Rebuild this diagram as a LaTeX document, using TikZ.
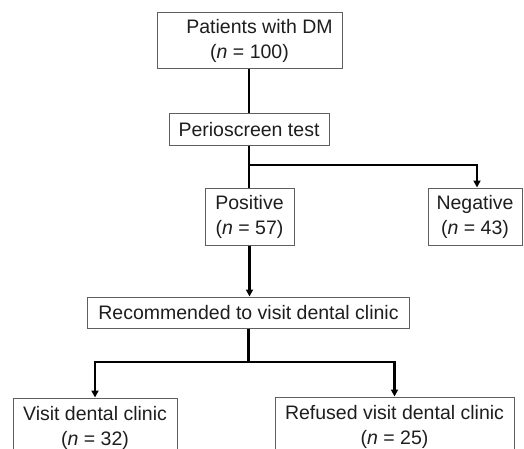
\documentclass[tikz,border=0pt]{standalone}
\usepackage{fontspec}
\setmainfont{Liberation Sans}
\usetikzlibrary{arrows.meta}
\definecolor{boxgray}{RGB}{95,95,95}
\definecolor{txt}{RGB}{30,30,30}
\tikzset{
  box/.style={draw=boxgray, line width=1pt, inner sep=0pt, align=center, text=txt,
    font=\fontsize{19.5}{25}\selectfont},
  conn/.style={line width=2.2pt, black},
  arr/.style={conn, -{Triangle[length=7pt,width=7pt]}}
}
\begin{document}
\begin{tikzpicture}[x=1pt,y=-1pt]
\useasboundingbox[fill=white] (0,0) rectangle (524,449);
\clip (0,0) rectangle (524,449);
\node[box, minimum width=185pt, minimum height=56pt] (dm) at (249.5,41) {\hspace*{20pt}Patients with DM\\(\textit{n} = 100)};
\node[box, minimum width=160pt, minimum height=32pt] (perio) at (249,130) {Perioscreen test};
\node[box, minimum width=89pt, minimum height=57pt] (pos) at (249.5,216.5) {Positive\\(\textit{n} = 57)};
\node[box, minimum width=94pt, minimum height=57pt] (neg) at (475,216.5) {Negative\\(\textit{n} = 43)};
\node[box, minimum width=322pt, minimum height=31pt] (rec) at (248.5,312.5) {Recommended to visit dental clinic};
\node[box, minimum width=164pt, minimum height=60pt] (visit) at (95,428) {Visit dental clinic\\(\textit{n} = 32)};
\node[box, minimum width=239pt, minimum height=60pt] (ref) at (394.5,427) {Refused visit dental clinic\\(\textit{n} = 25)};
\coordinate (b1) at (249,165);
\coordinate (b2) at (248.5,362);
\draw[conn] (dm.south -| perio) -- (perio.north);
\draw[conn] (perio.south) -- (pos.north -| perio.south);
\draw[arr] (b1) -| ([xshift=2pt]neg.north);
\draw[arr] (pos.south) -- (rec.north -| pos.south);
\draw[conn] (rec.south) -- (b2);
\draw[arr] (b2) -| (visit.north);
\draw[arr] (b2) -| (ref.north);
\end{tikzpicture}
\end{document}
